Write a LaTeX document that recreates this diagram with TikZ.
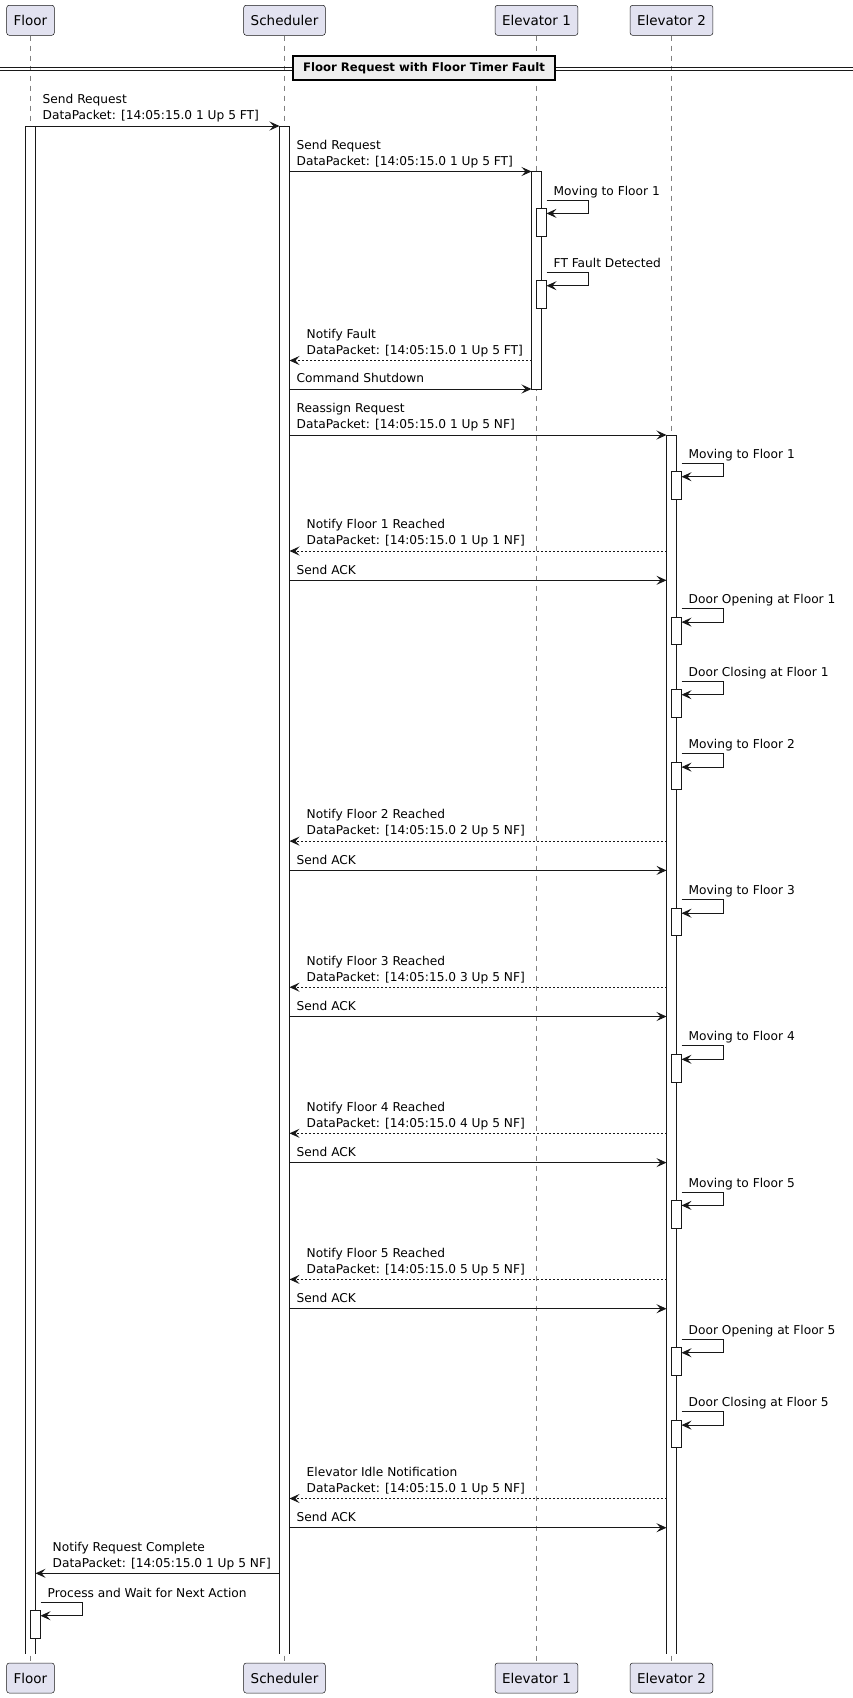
\documentclass[tikz,border=0pt]{standalone}
\usepackage{fontspec}
\setmainfont{DejaVu Sans}
\usetikzlibrary{arrows.meta}

\definecolor{ink}{HTML}{181818}
\definecolor{partfill}{HTML}{E2E2F0}
\definecolor{divfill}{HTML}{EEEEEE}

\def\xFloor{30.5}
\def\xSched{284.5}
\def\xEa{536.5}
\def\xEb{671.5}

\newcommand{\Msg}[5][msg]{%
  \pgfmathsetmacro{\lblx}{#3>#2 ? #2+7 : #3+17}
  \coordinate (from) at (#2,#4);
  \coordinate (to) at (#3,#4);
  \draw[#1] (from) -- (to);
  \node[lbl, anchor=south west] (lab) at (\lblx,#4-1.2) {#5\strut};
}
\newcommand{\SelfMsg}[3]{%
  \draw[bar] (#1,#2+8.4) rectangle (#1+10,#2+36);
  \coordinate (from) at (#1+10,#2);
  \coordinate (to) at (#1+10,#2+13.4);
  \draw[msg] (from) -- ++(42,0) -- ++(0,13.4) -- (to);
  \node[lbl, anchor=base west] (lab) at (#1+17,#2-5) {#3};
}

\begin{document}
\begin{tikzpicture}[x=1pt,y=-1pt]
          \tikzset{part/.style={draw=ink, fill=partfill, rounded corners=2.5pt, line width=0.5pt,
                   minimum height=30pt, inner xsep=7pt, font=\fontsize{13.5}{16}\selectfont}}
          \tikzset{life/.style={draw=ink!55, line width=0.6pt, dash pattern=on 5pt off 5pt}}
          \tikzset{bar/.style={draw=ink, fill=white, line width=0.8pt}}
          \tikzset{msg/.style={draw=ink, line width=0.9pt, -{Stealth[length=10pt,width=9pt,inset=4pt]}}}
          \tikzset{ret/.style={msg, dash pattern=on 2pt off 2pt}}
          \tikzset{lbl/.style={inner sep=0pt, align=left, font=\fontsize{12.2}{16}\selectfont}}
          \tikzset{divider/.style={draw=black, fill=divfill, line width=1.5pt, minimum width=262pt,
                   minimum height=24pt, inner sep=0pt, font=\bfseries\fontsize{11.7}{14}\selectfont}}

          \useasboundingbox[fill=white] (0,0) rectangle (853,1698);

          \node[part] (floortop) at (\xFloor,20.3) {Floor};
          \node[part] (schedtop) at (\xSched,20.3) {Scheduler};
          \node[part] (elatop) at (\xEa,20.3) {Elevator 1};
          \node[part] (elbtop) at (\xEb,20.3) {Elevator 2};
          \node[part] (floorbot) at (\xFloor,1678) {Floor};
          \node[part] (schedbot) at (\xSched,1678) {Scheduler};
          \node[part] (elabot) at (\xEa,1678) {Elevator 1};
          \node[part] (elbbot) at (\xEb,1678) {Elevator 2};

          \draw[life] (floortop) -- (floorbot);
          \draw[life] (schedtop) -- (schedbot);
          \draw[life] (elatop) -- (elabot);
          \draw[life] (elbtop) -- (elbbot);

          \draw[ink, line width=0.9pt] (0,67.5) -- (853,67.5);
          \draw[ink, line width=0.9pt] (0,70.5) -- (853,70.5);
          \node[divider] (title) at (424,68) {Floor Request with Floor Timer Fault};

          \draw[bar] (\xFloor-5,1653.5) -- (\xFloor-5,126) -- (\xFloor+5,126) -- (\xFloor+5,1653.5);
          \draw[bar] (\xSched-5,1653.5) -- (\xSched-5,126) -- (\xSched+5,126) -- (\xSched+5,1653.5);
          \draw[bar] (\xEa-5,171.5) rectangle (\xEa+5,389);
          \draw[bar] (\xEb-5,1653.5) -- (\xEb-5,435) -- (\xEb+5,435) -- (\xEb+5,1653.5);

          \Msg{\xFloor+5}{\xSched-5}{126}{Send Request\\DataPacket: [14:05:15.0 1 Up 5 FT]}
          \Msg{\xSched+5}{\xEa-5}{171.5}{Send Request\\DataPacket: [14:05:15.0 1 Up 5 FT]}
          \SelfMsg{\xEa}{200}{Moving to Floor 1}
          \SelfMsg{\xEa}{272.3}{FT Fault Detected}
          \Msg[ret]{\xEa-5}{\xSched+5}{360.5}{Notify Fault\\DataPacket: [14:05:15.0 1 Up 5 FT]}
          \Msg{\xSched+5}{\xEa-5}{389}{Command Shutdown}
          \Msg{\xSched+5}{\xEb-5}{435}{Reassign Request\\DataPacket: [14:05:15.0 1 Up 5 NF]}
          \SelfMsg{\xEb}{463.3}{Moving to Floor 1}
          \Msg[ret]{\xEb-5}{\xSched+5}{551}{Notify Floor 1 Reached\\DataPacket: [14:05:15.0 1 Up 1 NF]}
          \Msg{\xSched+5}{\xEb-5}{580.3}{Send ACK}
          \SelfMsg{\xEb}{608.7}{Door Opening at Floor 1}
          \SelfMsg{\xEb}{681.3}{Door Closing at Floor 1}
          \foreach \n in {2,...,5} {
            \pgfmathsetmacro{\ty}{753.7+(\n-2)*146.1}
            \SelfMsg{\xEb}{\ty}{Moving to Floor \n}
            \Msg[ret]{\xEb-5}{\xSched+5}{\ty+87.4}{Notify Floor \n\ Reached\\DataPacket: [14:05:15.0 \n\ Up 5 NF]}
            \Msg{\xSched+5}{\xEb-5}{\ty+116.7}{Send ACK}
          }
          \SelfMsg{\xEb}{1339.3}{Door Opening at Floor 5}
          \SelfMsg{\xEb}{1411.7}{Door Closing at Floor 5}
          \Msg[ret]{\xEb-5}{\xSched+5}{1498.5}{Elevator Idle Notification\\DataPacket: [14:05:15.0 1 Up 5 NF]}
          \Msg{\xSched+5}{\xEb-5}{1527.7}{Send ACK}
          \Msg{\xSched-5}{\xFloor+5}{1573.3}{Notify Request Complete\\DataPacket: [14:05:15.0 1 Up 5 NF]}
          \SelfMsg{\xFloor}{1602.3}{Process and Wait for Next Action}
        \end{tikzpicture}
\end{document}
